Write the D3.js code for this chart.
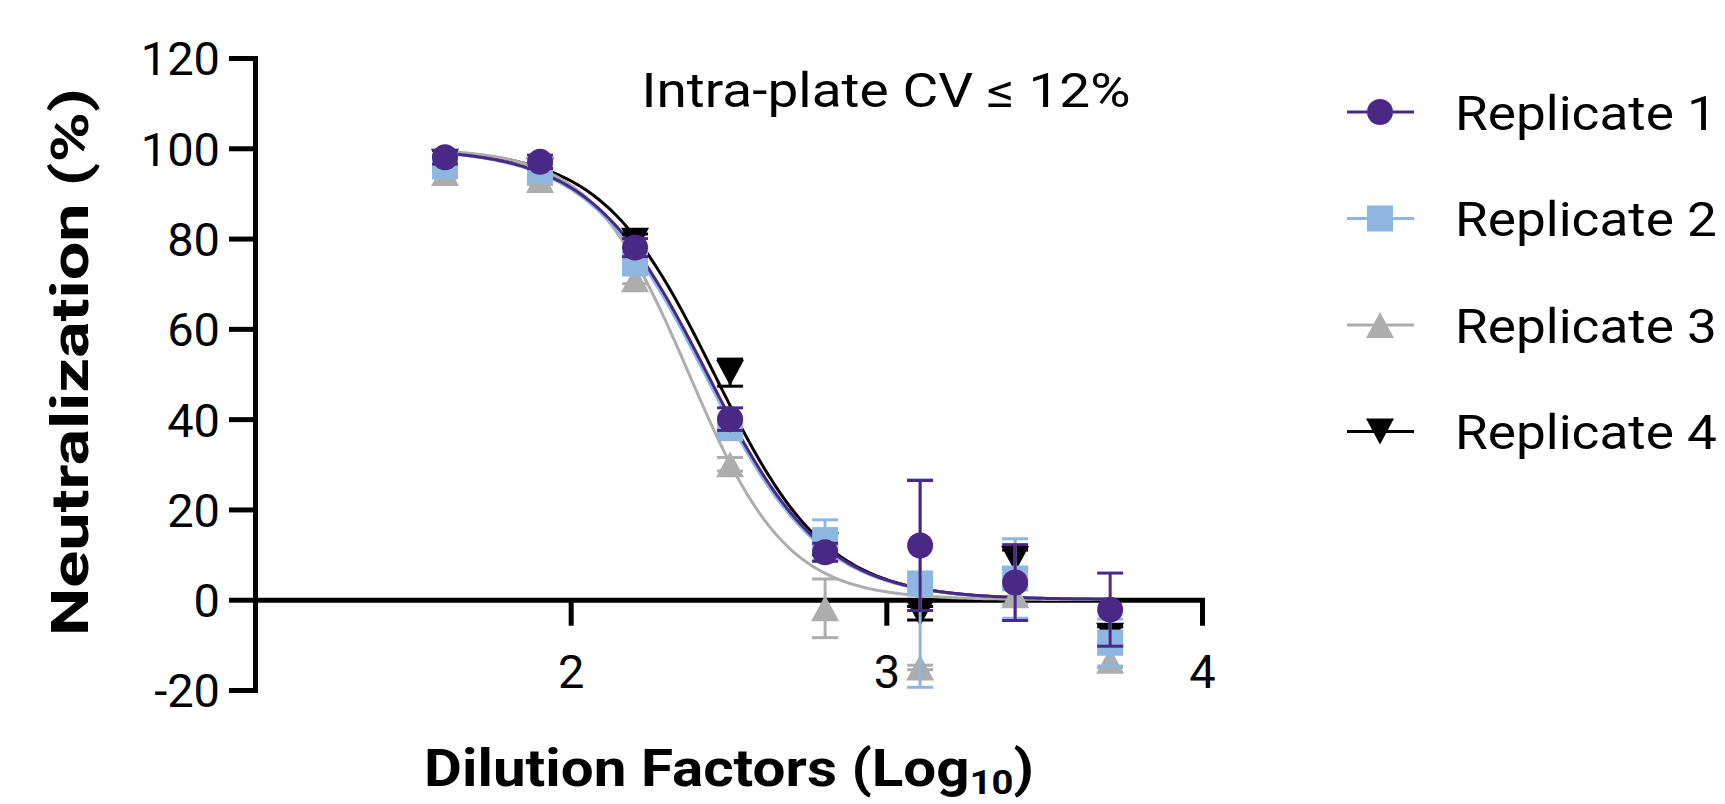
<!DOCTYPE html>
<html>
<head>
<meta charset="utf-8">
<script src="https://cdn.jsdelivr.net/npm/d3@7"></script>
<style>
  html, body { margin: 0; padding: 0; background: #fff; }
  svg { display: block; }
  text { font-family: Roboto, "Noto Sans", sans-serif; fill: #000; }
</style>
</head>
<body>
<svg id="chart" width="1725" height="804"></svg>
<script>
// ---- data ----
const logDilution = [1.602, 1.903, 2.204, 2.505, 2.806, 3.107, 3.408, 3.709];
const seriesNames = ["Replicate 1", "Replicate 2", "Replicate 3", "Replicate 4"];
const seriesColors = ["#4A2885", "#8DB6E0", "#ADADAD", "#000000"];
const seriesSymbols = ["circle", "square", "triangleUp", "triangleDown"];
const rep1Mean = [98, 97, 78, 40, 10.5, 12, 3.8, -2.2];
const rep1Err  = [1.5, 1.5, 2, 2.5, 2, 14.4, 8.4, 8.1];
const rep2Mean = [96, 95, 74.5, 38, 13.2, 3.6, 4.7, -9.5];
const rep2Err  = [1.5, 1.5, 1.5, 2, 4.5, 23, 8.8, 5.2];
const rep3Mean = [94.5, 93, 71, 30, -1.9, -15, 1, -13.5];
const rep3Err  = [1, 1, 1, 1.5, 6.5, 0.5, 2, 1.5];
const rep4Mean = [97, 95, 79.5, 50.3, 12, -3, 9, -8];
const rep4Err  = [1, 1, 1.5, 3.0, 2, 1.5, 2, 2];
// four-parameter logistic fit parameters per replicate
const fitTop    = [100, 100, 100, 100];
const fitBottom = [0, 0, 0, 0];
const fitLogIC50 = [2.433, 2.425, 2.375, 2.455];
const fitHill   = [2.36, 2.36, 2.8, 2.44];
const yTicks = [-20, 0, 20, 40, 60, 80, 100, 120];
const xTicks = [2, 3, 4];
const annotation = "Intra-plate CV \u2264 12%";

const means = [rep1Mean, rep2Mean, rep3Mean, rep4Mean];
const errs = [rep1Err, rep2Err, rep3Err, rep4Err];

// ---- layout ----
const svg = d3.select("#chart");
const x = d3.scaleLinear().domain([1, 4]).range([255, 1202]);
const y = d3.scaleLinear().domain([-20, 120]).range([690, 58]);

function symbolPath(kind) {
  if (kind === "circle") return d3.symbol(d3.symbolCircle, Math.PI * 13 * 13)();
  if (kind === "square") return d3.symbol(d3.symbolSquare, 26 * 26)();
  const w = 14, h = 13;
  if (kind === "triangleUp") return `M0,${-h}L${w},${h}L${-w},${h}Z`;
  return `M0,${h}L${w},${-h}L${-w},${-h}Z`;
}

// stretch a text element horizontally to a target width (around its anchor)
function fitWidth(textSel, target) {
  const w = textSel.node().getBBox().width;
  if (w > 0) textSel.attr("transform", `scale(${target / w},1)`);
}

// ---- axes ----
const yAxis = d3.axisLeft(y).tickValues(yTicks).tickFormat(d => String(d))
  .tickSize(26).tickPadding(9).tickSizeOuter(0);
const gy = svg.append("g").attr("transform", `translate(${x(1)},0)`).call(yAxis);
gy.select(".domain").attr("stroke-width", 5).attr("stroke", "#000");
gy.selectAll(".tick line").attr("stroke-width", 5).attr("stroke", "#000");
gy.selectAll(".tick text").style("font-size", "47px").attr("dy", "0.36em");

const xAxis = d3.axisBottom(x).tickValues(xTicks).tickFormat(d => String(d))
  .tickSize(26).tickPadding(29).tickSizeOuter(0);
const gx = svg.append("g").attr("transform", `translate(0,${y(0)})`).call(xAxis);
gx.select(".domain").attr("stroke-width", 5).attr("stroke", "#000");
gx.selectAll(".tick line").attr("stroke-width", 5).attr("stroke", "#000");
gx.selectAll(".tick text").style("font-size", "47px");
svg.selectAll(".domain").attr("stroke-linecap", "square");

// ---- curves ----
const curveXs = d3.range(1.6, 3.712, 0.01);
const line = d3.line().x(d => x(d[0])).y(d => y(d[1]));
for (let s = 3; s >= 0; s--) {
  const pts = curveXs.map(v => [v, fitBottom[s] + (fitTop[s] - fitBottom[s]) / (1 + Math.pow(10, (v - fitLogIC50[s]) * fitHill[s]))]);
  svg.append("path").datum(pts).attr("d", line)
    .attr("fill", "none").attr("stroke", seriesColors[s]).attr("stroke-width", 3);
}

// ---- error bars and markers ----
for (let s = 3; s >= 0; s--) {
  const g = svg.append("g");
  const data = logDilution.map((v, i) => ({x: v, m: means[s][i], e: errs[s][i]}));
  const eb = g.selectAll(".eb").data(data).enter().append("g");
  eb.append("line").attr("x1", d => x(d.x)).attr("x2", d => x(d.x))
    .attr("y1", d => y(d.m + d.e)).attr("y2", d => y(d.m - d.e))
    .attr("stroke", seriesColors[s]).attr("stroke-width", 3);
  eb.append("line").attr("x1", d => x(d.x) - 13).attr("x2", d => x(d.x) + 13)
    .attr("y1", d => y(d.m + d.e)).attr("y2", d => y(d.m + d.e))
    .attr("stroke", seriesColors[s]).attr("stroke-width", 3);
  eb.append("line").attr("x1", d => x(d.x) - 13).attr("x2", d => x(d.x) + 13)
    .attr("y1", d => y(d.m - d.e)).attr("y2", d => y(d.m - d.e))
    .attr("stroke", seriesColors[s]).attr("stroke-width", 3);
  g.selectAll(".pt").data(data).enter().append("path")
    .attr("d", symbolPath(seriesSymbols[s]))
    .attr("transform", d => `translate(${x(d.x)},${y(d.m)})`)
    .attr("fill", seriesColors[s]);
}

// ---- annotation ----
const ann = svg.append("g").attr("transform", "translate(886,107)")
  .append("text").attr("text-anchor", "middle").style("font-size", "48px").text(annotation);
fitWidth(ann, 489);

// ---- axis titles ----
const yt = svg.append("g").attr("transform", "translate(88,362) rotate(-90)")
  .append("text").attr("text-anchor", "middle").style("font-size", "51px").style("font-weight", "bold")
  .text("Neutralization (%)");
fitWidth(yt, 548);
const xt = svg.append("g").attr("transform", "translate(729,786)")
  .append("text").attr("text-anchor", "middle").style("font-size", "52px").style("font-weight", "bold");
xt.append("tspan").text("Dilution Factors (Log");
xt.append("tspan").attr("dy", 8).style("font-size", "34px").text("10");
xt.append("tspan").attr("dy", -8).text(")");
fitWidth(xt, 610);

// ---- legend ----
const legend = svg.append("g");
seriesNames.forEach((name, i) => {
  const cy = 112 + i * 106.5;
  const row = legend.append("g").attr("transform", `translate(0,${cy})`);
  row.append("line").attr("x1", 1347).attr("x2", 1414).attr("y1", 0).attr("y2", 0)
    .attr("stroke", seriesColors[i]).attr("stroke-width", 3);
  row.append("path").attr("d", symbolPath(seriesSymbols[i]))
    .attr("transform", "translate(1380,0)").attr("fill", seriesColors[i]);
  const t = row.append("g").attr("transform", "translate(1455,0)")
    .append("text").attr("dy", "0.36em").style("font-size", "49px").text(name);
  fitWidth(t, 262);
});
</script>
</body>
</html>
